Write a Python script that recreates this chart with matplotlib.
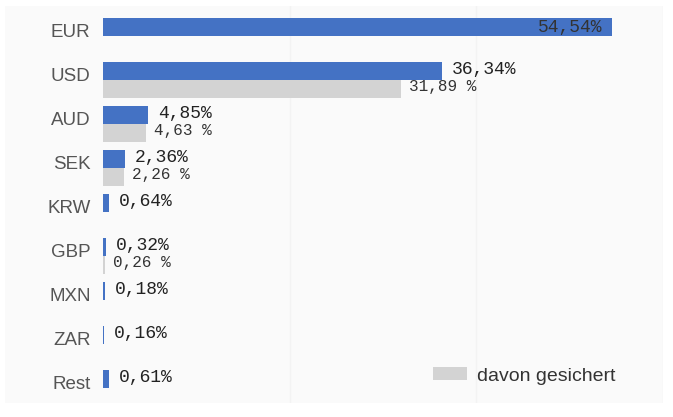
import numpy as np
import matplotlib.pyplot as plt
from matplotlib.patches import Patch

# Data
currencies = ["EUR", "USD", "AUD", "SEK", "KRW", "GBP", "MXN", "ZAR", "Rest"]
share = [54.54, 36.34, 4.85, 2.36, 0.64, 0.32, 0.18, 0.16, 0.61]
hedged = [None, 31.89, 4.63, 2.26, None, 0.26, None, None, None]

BLUE = "#4472C4"
GREY = "#D3D3D3"
W, H = 673, 417

fig = plt.figure(figsize=(W / 100, H / 100), dpi=100)
fig.patch.set_facecolor("white")

# light panel behind the whole chart
bg = fig.add_axes([5 / W, 1 - 403 / H, (663 - 5) / W, (403 - 6) / H], zorder=-1)
bg.set_facecolor("#fafafa")
bg.set_xticks([])
bg.set_yticks([])
for s in bg.spines.values():
    s.set_visible(False)

ax = fig.add_axes([103 / W, 1 - 403 / H, (663 - 103) / W, (403 - 6) / H])
ax.set_facecolor("none")

bh = 18 / 44
y = np.arange(len(currencies))

ax.barh(y, share, height=bh, align="edge", color=BLUE, zorder=3)
for i, h in enumerate(hedged):
    if h is not None:
        ax.barh(y[i] + bh, h, height=bh, align="edge", color=GREY, zorder=3)

mono = "Liberation Mono"
for i, v in enumerate(share):
    txt = f"{v:.2f}%".replace(".", ",")
    if v > 50:
        ax.text(v - 1.05, y[i] + bh / 2, txt, ha="right", va="center",
                fontsize=13, family=mono, color="#333333", zorder=4)
    else:
        ax.text(v + 1.05, y[i] + bh / 2 - 0.04, txt, ha="left", va="center",
                fontsize=13, family=mono, color="#222222", zorder=4)
for i, h in enumerate(hedged):
    if h is not None:
        txt = f"{h:.2f} %".replace(".", ",")
        ax.text(h + 0.85, y[i] + 1.5 * bh - 0.05, txt, ha="left", va="center",
                fontsize=11.5, family=mono, color="#333333", zorder=4)

ax.set_xlim(0, 60)
ax.set_ylim((403 - 18) / 44, (6 - 18) / 44)
ax.set_xticks([20, 40, 60])
ax.tick_params(axis="x", length=0, labelbottom=False)
ax.grid(axis="x", color="#f3f3f3", linewidth=1, zorder=1)
ax.set_yticks(y + 0.295)
ax.set_yticklabels(currencies, fontsize=13.5, family="Liberation Sans", color="#555555")
ax.tick_params(axis="y", length=0, pad=9)
for s in ax.spines.values():
    s.set_visible(False)

leg = ax.legend(handles=[Patch(facecolor=GREY, edgecolor="none", label="davon gesichert")],
                loc="center left", bbox_to_anchor=(433 / W, 1 - 376 / H),
                bbox_transform=fig.transFigure, frameon=False, borderpad=0,
                borderaxespad=0,
                prop={"family": "Liberation Sans", "size": 14},
                handlelength=1.75, handleheight=0.65, handletextpad=0.5)
for t in leg.get_texts():
    t.set_color("#333333")

fig.savefig("out.png", dpi=100)
